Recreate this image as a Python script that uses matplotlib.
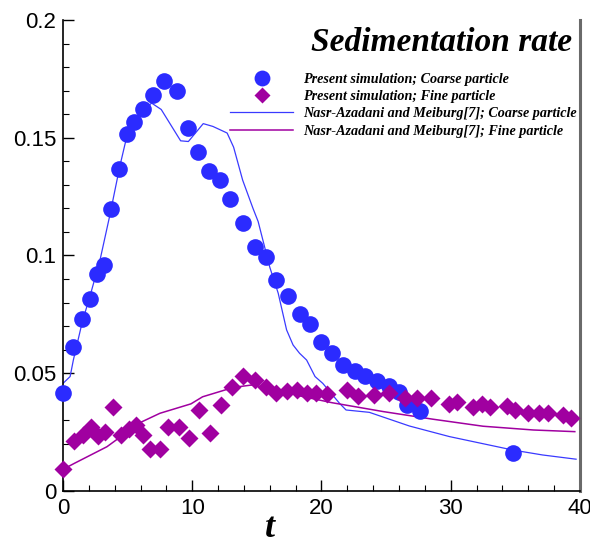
import matplotlib
matplotlib.use("Agg")
import matplotlib.pyplot as plt
from matplotlib.ticker import MultipleLocator

# ---- data ----
t_coarse = [0, 0.8, 1.5, 2.1, 2.6, 3.15, 3.7, 4.35, 4.93, 5.5, 6.2, 6.95, 7.78, 8.85, 9.64,
            10.45, 11.3, 12.15, 12.9, 13.9, 14.85, 15.7, 16.5, 17.4, 18.35, 19.1, 19.95, 20.85,
            21.7, 22.6, 23.4, 24.3, 25.2, 26.0, 26.65, 27.6, 34.8]
v_coarse = [0.0415, 0.0613, 0.073, 0.0814, 0.092, 0.096, 0.1198, 0.1367, 0.1517, 0.1566, 0.162,
            0.168, 0.1739, 0.170, 0.154, 0.144, 0.136, 0.132, 0.124, 0.1137, 0.1038, 0.0993,
            0.0896, 0.0826, 0.0753, 0.0707, 0.0632, 0.0585, 0.0535, 0.0511, 0.0489, 0.0468,
            0.0445, 0.042, 0.0365, 0.034, 0.016]

t_fine = [0, 0.86, 1.57, 2.2, 2.7, 3.25, 3.85, 4.48, 5.1, 5.65, 6.2, 6.75, 7.5, 8.15, 9.0, 9.77,
          10.55, 11.4, 12.2, 13.1, 13.9, 14.85, 15.7, 16.5, 17.3, 18.1, 18.85, 19.6, 20.4, 21.95,
          22.8, 24.05, 25.2, 26.45, 27.4, 28.5, 29.85, 30.5, 31.7, 32.4, 33.0, 34.35, 35.0, 36.0,
          36.8, 37.55, 38.7, 39.3]
v_fine = [0.0095, 0.0212, 0.0238, 0.0273, 0.0235, 0.0252, 0.0357, 0.0238, 0.0262, 0.0281, 0.0236,
          0.0177, 0.0177, 0.0273, 0.0273, 0.0224, 0.0346, 0.0248, 0.0365, 0.0443, 0.0489, 0.0472,
          0.0443, 0.0415, 0.0426, 0.0429, 0.0418, 0.0417, 0.0413, 0.0429, 0.0402, 0.0406, 0.0418,
          0.0393, 0.0393, 0.0393, 0.0371, 0.0380, 0.0358, 0.037, 0.0356, 0.0359, 0.0344, 0.0333,
          0.0333, 0.0333, 0.0323, 0.0308]

# Nasr-Azadani and Meiburg reference curves
t_ref_coarse = [0, 0.55, 0.8, 1.5, 2.1, 2.86, 3.6, 4.4, 4.87, 5.95, 6.86, 7.6, 9.1, 9.7, 10.85,
                11.6, 12.7, 13.2, 13.9, 14.7, 15.1, 16.0, 16.65, 17.3, 17.8, 18.3, 18.85, 19.5,
                20.1, 21.4, 21.9, 23.7, 26.8, 29.9, 34.8, 37.1, 39.7]
v_ref_coarse = [0.0457, 0.0486, 0.0556, 0.072, 0.083, 0.098, 0.1165, 0.138, 0.149, 0.161, 0.1647,
                0.162, 0.1487, 0.1484, 0.156, 0.1548, 0.152, 0.146, 0.132, 0.120, 0.1144, 0.095,
                0.084, 0.0684, 0.062, 0.0585, 0.0556, 0.0486, 0.0457, 0.0372, 0.0344, 0.0334,
                0.0276, 0.0231, 0.0174, 0.0153, 0.0135]
t_ref_fine = [0, 0.9, 3.4, 5.95, 7.5, 9.9, 10.8, 13.2, 14.6, 16.4, 18.3, 20.8, 24.8, 28.6, 32.5,
              36.4, 39.6]
v_ref_fine = [0.0092, 0.0118, 0.0188, 0.029, 0.033, 0.037, 0.040, 0.0440, 0.0450, 0.0434, 0.0404,
              0.0375, 0.0337, 0.0305, 0.0275, 0.0259, 0.0252]

labels = ["Present simulation; Coarse particle",
          "Present simulation; Fine particle",
          "Nasr-Azadani and Meiburg[7]; Coarse particle",
          "Nasr-Azadani and Meiburg[7]; Fine particle"]

BLUE = "#2b2bff"
BLUE_LINE = "#3a3aff"
MAGENTA = "#a000a0"
SERIF = "Liberation Serif"

plt.rcParams["font.family"] = "Liberation Sans"

fig = plt.figure(figsize=(5.9, 5.45), dpi=100)
ax = fig.add_axes([0.1068, 0.0991, 0.8762, 0.8642])

ax.plot(t_coarse, v_coarse, "o", color=BLUE, ms=12, mec="none", clip_on=False,
        zorder=3, label=labels[0])
ax.plot(t_fine, v_fine, "D", color=MAGENTA, ms=9, mec="none", clip_on=False,
        zorder=3, label=labels[1])
ax.plot(t_ref_coarse, v_ref_coarse, "-", color=BLUE_LINE, lw=0.9, zorder=2, label=labels[2])
ax.plot(t_ref_fine, v_ref_fine, "-", color=MAGENTA, lw=1.1, zorder=2, label=labels[3])

ax.set_xlim(0, 40)
ax.set_ylim(0, 0.2)
ax.xaxis.set_major_locator(MultipleLocator(10))
ax.xaxis.set_minor_locator(MultipleLocator(2))
ax.yaxis.set_major_locator(MultipleLocator(0.05))
ax.yaxis.set_minor_locator(MultipleLocator(0.01))
ax.set_yticks([0, 0.05, 0.1, 0.15, 0.2], ["0", "0.05", "0.1", "0.15", "0.2"])
ax.tick_params(which="major", direction="in", length=8, width=1, labelsize=16, pad=5)
ax.tick_params(which="minor", direction="in", length=4, width=0.8)

ax.spines["top"].set_visible(False)
ax.spines["left"].set_linewidth(1.2)
ax.spines["bottom"].set_linewidth(1.2)
ax.spines["right"].set_color("#6a6a6a")
ax.spines["right"].set_linewidth(2.2)

ax.set_xlabel("t", fontsize=26, fontweight="bold", fontstyle="italic", family=SERIF)
ax.xaxis.set_label_coords(0.40, -0.045)

ax.text(0.985, 0.985, "Sedimentation rate", transform=ax.transAxes, ha="right", va="top",
        fontsize=24, fontweight="bold", fontstyle="italic", family=SERIF)

ax.legend(loc="upper right", bbox_to_anchor=(0.993, 0.888), frameon=False,
          prop={"family": SERIF, "weight": "bold", "style": "italic", "size": 10.2},
          handlelength=4.4, handletextpad=0.7, labelspacing=0.3, borderpad=0,
          borderaxespad=0, markerscale=0.95)

fig.savefig("out.png", dpi=100)
